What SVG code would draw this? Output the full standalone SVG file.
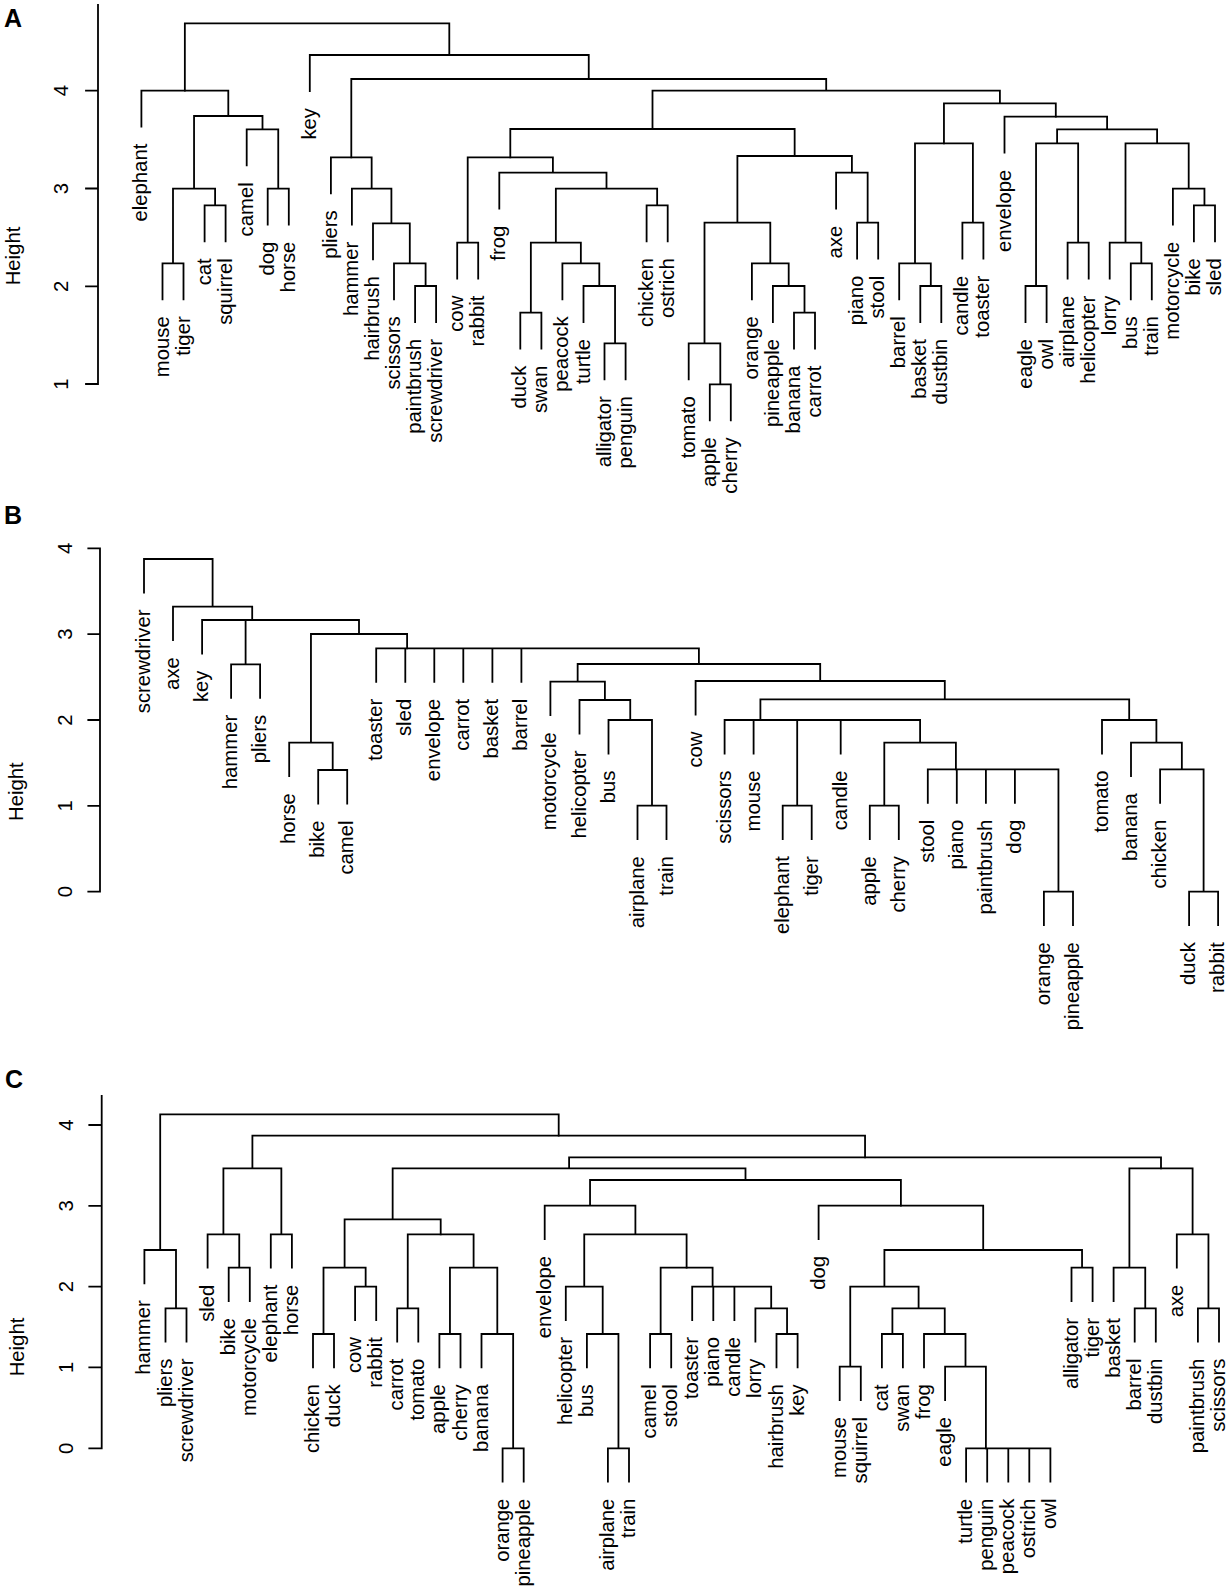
<svg xmlns="http://www.w3.org/2000/svg" width="1230" height="1592" viewBox="0 0 1230 1592">
<style>
.ln{stroke:#000;stroke-width:1.8;fill:none;stroke-linecap:square}
text{font-family:"Liberation Sans",Arial,sans-serif;fill:#000}
.lb{font-size:20.3px;text-anchor:end}
.tk{font-size:20.3px;text-anchor:middle}
.pl{font-size:25px;font-weight:bold}
</style>
<rect width="1230" height="1592" fill="#fff"/>
<!-- Panel A -->
<g id="panelA-axis">
<text class="pl" x="4" y="27">A</text>
<path class="ln" d="M98 5V384M86 90.7H98M86 188.5H98M86 286.3H98M86 384H98"/>
<text class="tk" transform="translate(68,90.7) rotate(-90)">4</text>
<text class="tk" transform="translate(68,188.5) rotate(-90)">3</text>
<text class="tk" transform="translate(68,286.3) rotate(-90)">2</text>
<text class="tk" transform="translate(68,384) rotate(-90)">1</text>
<text class="tk" transform="translate(19.5,256) rotate(-90)">Height</text>
</g>
<g id="panelA-connectors" class="ln">
<path d="M162.5 299.3V263.3H183.5V299.3M204.6 241.3V205.3H225.6V241.3M173 263.3V188.7H215.1V205.3M267.7 224.7V188.7H288.8V224.7M246.7 165.3V129.3H278.25V188.7M194.05 188.7V116H262.5V129.3M141.4 126.7V90.7H228.3V116"/>
<path d="M415.1 322V286H436.1V322M394 299.3V263.3H425.6V286M373 259.3V223.3H409.8V263.3M351.9 224.7V188.7H391.4V223.3M330.9 193.3V157.3H371.65V188.7"/>
<path d="M457.2 278.7V242.7H478.2V278.7M520.3 348.7V312.7H541.4V348.7M604.5 379.3V343.3H625.6V379.3M583.5 322V286H615.05V343.3M562.4 299.3V263.3H599.3V286M530.85 312.7V242.7H580.85V263.3M646.6 241.3V205.3H667.7V241.3M555.85 242.7V188.7H657.15V205.3M499.3 208.7V172.7H606.5V188.7M467.7 242.7V157.3H552.9V172.7"/>
<path d="M709.8 420.3V384.3H730.8V420.3M688.7 379.3V343.3H720.3V384.3M794 348.7V312.7H815V348.7M772.9 322V286H804.5V312.7M751.9 299.3V263.3H788.7V286M704.5 343.3V222.7H770.3V263.3M857.1 258.7V222.7H878.2V258.7M836.1 208.7V172.7H867.65V222.7M737.4 222.7V156H851.9V172.7M510.3 157.3V129H794.65V156"/>
<path d="M920.3 322V286H941.3V322M899.2 299.3V263.3H930.8V286M962.4 258.7V222.7H983.4V258.7M915 263.3V143.3H972.9V222.7"/>
<path d="M1025.5 322V286H1046.6V322M1067.6 278.7V242.7H1088.7V278.7M1036.05 286V143.3H1078.15V242.7M1130.8 299.3V263.3H1151.8V299.3M1109.7 278.7V242.7H1141.3V263.3M1193.9 241.3V205.3H1215V241.3M1172.9 224.7V188.7H1204.45V205.3M1125.5 242.7V143.3H1188.7V188.7M1057.1 143.3V129.3H1157.1V143.3M1004.5 152.7V116.7H1107.1V129.3"/>
<path d="M943.95 143.3V103.3H1055.8V116.7M652.5 129V90.7H999.9V103.3M351.3 157.3V79H826.2V90.7M309.8 91V55H588.75V79M184.85 90.7V23.3H449.3V55"/>
</g>
<g id="panelA-leaves" class="lb">
<g id="A-elephant"><text transform="translate(147.4,143.7) rotate(-90)">elephant</text></g>
<g id="A-mouse"><text transform="translate(168.5,316.3) rotate(-90)">mouse</text></g>
<g id="A-tiger"><text transform="translate(189.5,316.3) rotate(-90)">tiger</text></g>
<g id="A-cat"><text transform="translate(210.6,258.3) rotate(-90)">cat</text></g>
<g id="A-squirrel"><text transform="translate(231.6,258.3) rotate(-90)">squirrel</text></g>
<g id="A-camel"><text transform="translate(252.7,182.3) rotate(-90)">camel</text></g>
<g id="A-dog"><text transform="translate(273.7,241.7) rotate(-90)">dog</text></g>
<g id="A-horse"><text transform="translate(294.8,241.7) rotate(-90)">horse</text></g>
<g id="A-key"><text transform="translate(315.8,108) rotate(-90)">key</text></g>
<g id="A-pliers"><text transform="translate(336.9,210.3) rotate(-90)">pliers</text></g>
<g id="A-hammer"><text transform="translate(357.9,241.7) rotate(-90)">hammer</text></g>
<g id="A-hairbrush"><text transform="translate(379,276.3) rotate(-90)">hairbrush</text></g>
<g id="A-scissors"><text transform="translate(400,316.3) rotate(-90)">scissors</text></g>
<g id="A-paintbrush"><text transform="translate(421.1,339) rotate(-90)">paintbrush</text></g>
<g id="A-screwdriver"><text transform="translate(442.1,339) rotate(-90)">screwdriver</text></g>
<g id="A-cow"><text transform="translate(463.2,295.7) rotate(-90)">cow</text></g>
<g id="A-rabbit"><text transform="translate(484.2,295.7) rotate(-90)">rabbit</text></g>
<g id="A-frog"><text transform="translate(505.3,225.7) rotate(-90)">frog</text></g>
<g id="A-duck"><text transform="translate(526.3,365.7) rotate(-90)">duck</text></g>
<g id="A-swan"><text transform="translate(547.4,365.7) rotate(-90)">swan</text></g>
<g id="A-peacock"><text transform="translate(568.4,316.3) rotate(-90)">peacock</text></g>
<g id="A-turtle"><text transform="translate(589.5,339) rotate(-90)">turtle</text></g>
<g id="A-alligator"><text transform="translate(610.5,396.3) rotate(-90)">alligator</text></g>
<g id="A-penguin"><text transform="translate(631.6,396.3) rotate(-90)">penguin</text></g>
<g id="A-chicken"><text transform="translate(652.6,258.3) rotate(-90)">chicken</text></g>
<g id="A-ostrich"><text transform="translate(673.7,258.3) rotate(-90)">ostrich</text></g>
<g id="A-tomato"><text transform="translate(694.7,396.3) rotate(-90)">tomato</text></g>
<g id="A-apple"><text transform="translate(715.8,437.3) rotate(-90)">apple</text></g>
<g id="A-cherry"><text transform="translate(736.8,437.3) rotate(-90)">cherry</text></g>
<g id="A-orange"><text transform="translate(757.9,316.3) rotate(-90)">orange</text></g>
<g id="A-pineapple"><text transform="translate(778.9,339) rotate(-90)">pineapple</text></g>
<g id="A-banana"><text transform="translate(800,365.7) rotate(-90)">banana</text></g>
<g id="A-carrot"><text transform="translate(821,365.7) rotate(-90)">carrot</text></g>
<g id="A-axe"><text transform="translate(842.1,225.7) rotate(-90)">axe</text></g>
<g id="A-piano"><text transform="translate(863.1,275.7) rotate(-90)">piano</text></g>
<g id="A-stool"><text transform="translate(884.2,275.7) rotate(-90)">stool</text></g>
<g id="A-barrel"><text transform="translate(905.2,316.3) rotate(-90)">barrel</text></g>
<g id="A-basket"><text transform="translate(926.3,339) rotate(-90)">basket</text></g>
<g id="A-dustbin"><text transform="translate(947.3,339) rotate(-90)">dustbin</text></g>
<g id="A-candle"><text transform="translate(968.4,275.7) rotate(-90)">candle</text></g>
<g id="A-toaster"><text transform="translate(989.4,275.7) rotate(-90)">toaster</text></g>
<g id="A-envelope"><text transform="translate(1010.5,169.7) rotate(-90)">envelope</text></g>
<g id="A-eagle"><text transform="translate(1031.5,339) rotate(-90)">eagle</text></g>
<g id="A-owl"><text transform="translate(1052.6,339) rotate(-90)">owl</text></g>
<g id="A-airplane"><text transform="translate(1073.6,295.7) rotate(-90)">airplane</text></g>
<g id="A-helicopter"><text transform="translate(1094.7,295.7) rotate(-90)">helicopter</text></g>
<g id="A-lorry"><text transform="translate(1115.7,295.7) rotate(-90)">lorry</text></g>
<g id="A-bus"><text transform="translate(1136.8,316.3) rotate(-90)">bus</text></g>
<g id="A-train"><text transform="translate(1157.8,316.3) rotate(-90)">train</text></g>
<g id="A-motorcycle"><text transform="translate(1178.9,241.7) rotate(-90)">motorcycle</text></g>
<g id="A-bike"><text transform="translate(1199.9,258.3) rotate(-90)">bike</text></g>
<g id="A-sled"><text transform="translate(1221,258.3) rotate(-90)">sled</text></g>
</g>
<!-- Panel B -->
<g id="panelB-axis">
<text class="pl" x="4" y="523.5">B</text>
<path class="ln" d="M100 548.3V891.7M88.3 548.3H100M88.3 634.1H100M88.3 720H100M88.3 805.8H100M88.3 891.7H100"/>
<text class="tk" transform="translate(71.5,548.3) rotate(-90)">4</text>
<text class="tk" transform="translate(71.5,634.1) rotate(-90)">3</text>
<text class="tk" transform="translate(71.5,720) rotate(-90)">2</text>
<text class="tk" transform="translate(71.5,805.8) rotate(-90)">1</text>
<text class="tk" transform="translate(71.5,891.7) rotate(-90)">0</text>
<text class="tk" transform="translate(23,791.7) rotate(-90)">Height</text>
</g>
<g id="panelB-connectors" class="ln">
<path d="M144 592.5V559H212.6V606.7M173 640.2V606.7H252.2V620M202.1 653.5V620H302.3M245.6 664.3V620H359V634M231.1 697.8V664.3H260.1V697.8"/>
<path d="M310.95 742.7V634H407.1V648.3M289.2 776.2V742.7H332.7V770M318.2 803.5V770H347.2V803.5"/>
<path d="M376.2 681.8V648.3H698.9V664M405.3 648.3V681.8M434.3 648.3V681.8M463.3 648.3V681.8M492.4 648.3V681.8M521.4 648.3V681.8"/>
<path d="M577.65 681.7V664H820.2V681M550.4 715.2V681.7H604.9V700M579.5 733.5V700H630.25V720M608.5 753.5V720H652V805.7M637.5 839.2V805.7H666.5V839.2"/>
<path d="M695.6 714.5V681H944.8V699.3M760.4 720V699.3H1129.2V720M724.6 753.5V720H920.1V742.7M753.6 720V753.5M797.2 720V805.7M840.7 720V753.5M782.7 839.2V805.7H811.7V839.2M884.3 805.7V742.7H955.9V769.3M869.8 839.2V805.7H898.8V839.2"/>
<path d="M927.8 802.8V769.3H1058.45V891.7M956.8 769.3V802.8M985.9 769.3V802.8M1014.9 769.3V802.8M1043.9 925.2V891.7H1073V925.2"/>
<path d="M1102 753.5V720H1156.4V742.7M1131 776.2V742.7H1181.85V769.3M1160.1 802.8V769.3H1203.6V891.7M1189.1 925.2V891.7H1218.1V925.2"/>
</g>
<g id="panelB-leaves" class="lb">
<g id="B-screwdriver"><text transform="translate(150,609.5) rotate(-90)">screwdriver</text></g>
<g id="B-axe"><text transform="translate(179,657.2) rotate(-90)">axe</text></g>
<g id="B-key"><text transform="translate(208.1,670.5) rotate(-90)">key</text></g>
<g id="B-hammer"><text transform="translate(237.1,714.8) rotate(-90)">hammer</text></g>
<g id="B-pliers"><text transform="translate(266.1,714.8) rotate(-90)">pliers</text></g>
<g id="B-horse"><text transform="translate(295.2,793.2) rotate(-90)">horse</text></g>
<g id="B-bike"><text transform="translate(324.2,820.5) rotate(-90)">bike</text></g>
<g id="B-camel"><text transform="translate(353.2,820.5) rotate(-90)">camel</text></g>
<g id="B-toaster"><text transform="translate(382.2,698.8) rotate(-90)">toaster</text></g>
<g id="B-sled"><text transform="translate(411.3,698.8) rotate(-90)">sled</text></g>
<g id="B-envelope"><text transform="translate(440.3,698.8) rotate(-90)">envelope</text></g>
<g id="B-carrot"><text transform="translate(469.3,698.8) rotate(-90)">carrot</text></g>
<g id="B-basket"><text transform="translate(498.4,698.8) rotate(-90)">basket</text></g>
<g id="B-barrel"><text transform="translate(527.4,698.8) rotate(-90)">barrel</text></g>
<g id="B-motorcycle"><text transform="translate(556.4,732.2) rotate(-90)">motorcycle</text></g>
<g id="B-helicopter"><text transform="translate(585.5,750.5) rotate(-90)">helicopter</text></g>
<g id="B-bus"><text transform="translate(614.5,770.5) rotate(-90)">bus</text></g>
<g id="B-airplane"><text transform="translate(643.5,856.2) rotate(-90)">airplane</text></g>
<g id="B-train"><text transform="translate(672.5,856.2) rotate(-90)">train</text></g>
<g id="B-cow"><text transform="translate(701.6,731.5) rotate(-90)">cow</text></g>
<g id="B-scissors"><text transform="translate(730.6,770.5) rotate(-90)">scissors</text></g>
<g id="B-mouse"><text transform="translate(759.6,770.5) rotate(-90)">mouse</text></g>
<g id="B-elephant"><text transform="translate(788.7,856.2) rotate(-90)">elephant</text></g>
<g id="B-tiger"><text transform="translate(817.7,856.2) rotate(-90)">tiger</text></g>
<g id="B-candle"><text transform="translate(846.7,770.5) rotate(-90)">candle</text></g>
<g id="B-apple"><text transform="translate(875.8,856.2) rotate(-90)">apple</text></g>
<g id="B-cherry"><text transform="translate(904.8,856.2) rotate(-90)">cherry</text></g>
<g id="B-stool"><text transform="translate(933.8,819.8) rotate(-90)">stool</text></g>
<g id="B-piano"><text transform="translate(962.8,819.8) rotate(-90)">piano</text></g>
<g id="B-paintbrush"><text transform="translate(991.9,819.8) rotate(-90)">paintbrush</text></g>
<g id="B-dog"><text transform="translate(1020.9,819.8) rotate(-90)">dog</text></g>
<g id="B-orange"><text transform="translate(1049.9,942.2) rotate(-90)">orange</text></g>
<g id="B-pineapple"><text transform="translate(1079,942.2) rotate(-90)">pineapple</text></g>
<g id="B-tomato"><text transform="translate(1108,770.5) rotate(-90)">tomato</text></g>
<g id="B-banana"><text transform="translate(1137,793.2) rotate(-90)">banana</text></g>
<g id="B-chicken"><text transform="translate(1166.1,819.8) rotate(-90)">chicken</text></g>
<g id="B-duck"><text transform="translate(1195.1,942.2) rotate(-90)">duck</text></g>
<g id="B-rabbit"><text transform="translate(1224.1,942.2) rotate(-90)">rabbit</text></g>
</g>
<!-- Panel C -->
<g id="panelC-axis">
<text class="pl" x="5" y="1088">C</text>
<path class="ln" d="M101.7 1096V1448.3M89.3 1125H101.7M89.3 1205.8H101.7M89.3 1286.6H101.7M89.3 1367.4H101.7M89.3 1448.3H101.7"/>
<text class="tk" transform="translate(72.5,1125) rotate(-90)">4</text>
<text class="tk" transform="translate(72.5,1205.8) rotate(-90)">3</text>
<text class="tk" transform="translate(72.5,1286.6) rotate(-90)">2</text>
<text class="tk" transform="translate(72.5,1367.4) rotate(-90)">1</text>
<text class="tk" transform="translate(72.5,1448.3) rotate(-90)">0</text>
<text class="tk" transform="translate(24,1347) rotate(-90)">Height</text>
</g>
<g id="panelC-connectors" class="ln">
<path d="M160.2 1250V1114.3H558.7V1135.7M144.4 1283.3V1250H176V1308.3M165.5 1341.6V1308.3H186.5V1341.6"/>
<path d="M252.4 1168.3V1135.7H865.05V1157.3M223.4 1234.3V1168.3H281.35V1234.3M207.6 1267.6V1234.3H239.25V1267.7M228.7 1301V1267.7H249.8V1301M270.8 1267.6V1234.3H291.9V1267.6"/>
<path d="M569.1 1168.3V1157.3H1161V1168.3M392.65 1219.3V1168.3H745.5V1180M344.6 1267.7V1219.3H440.7V1234.3M323.5 1334V1267.7H365.65V1286.7M313 1367.3V1334H334V1367.3M355.1 1320V1286.7H376.2V1320"/>
<path d="M407.75 1308.3V1234.3H473.6V1267.7M397.2 1341.6V1308.3H418.3V1341.6M449.95 1334V1267.7H497.3V1334M439.4 1367.3V1334H460.5V1367.3M481.5 1367.3V1334H513.15V1448.3M502.6 1481.6V1448.3H523.7V1481.6"/>
<path d="M590.05 1205.7V1180H900.9V1205.7M544.7 1239V1205.7H635.4V1234.3M584.25 1286.7V1234.3H686.6V1267.7M565.8 1320V1286.7H602.7V1334M586.9 1367.3V1334H618.45V1448.3M607.9 1481.6V1448.3H629V1481.6"/>
<path d="M660.65 1334V1267.7H712.6V1286.7M650.1 1367.3V1334H671.2V1367.3M692.2 1320V1286.7H771.2V1308.3M713.3 1286.7V1320M734.4 1286.7V1320M755.4 1341.6V1308.3H787.05V1334M776.5 1367.3V1334H797.6V1367.3"/>
<path d="M818.6 1239V1205.7H983.2V1250M884.4 1286.7V1250H1082.05V1267.7M1071.5 1301V1267.7H1092.6V1301M850.25 1366.7V1286.7H918.6V1308.3M839.7 1400V1366.7H860.8V1400M892.4 1334V1308.3H944.75V1334M881.9 1367.3V1334H902.9V1367.3M924 1367.3V1334H965.5V1366.7M945.1 1400V1366.7H985.9V1448.3"/>
<path d="M966.1 1481.6V1448.3H1050.4V1481.6M987.2 1448.3V1481.6M1008.3 1448.3V1481.6M1029.3 1448.3V1481.6"/>
<path d="M1129.4 1267.7V1168.3H1192.6V1234.3M1113.6 1301V1267.7H1145.25V1308.3M1134.7 1341.6V1308.3H1155.8V1341.6M1176.8 1267.6V1234.3H1208.45V1308.3M1197.9 1341.6V1308.3H1219V1341.6"/>
</g>
<g id="panelC-leaves" class="lb">
<g id="C-hammer"><text transform="translate(150.4,1300.3) rotate(-90)">hammer</text></g>
<g id="C-pliers"><text transform="translate(171.5,1358.6) rotate(-90)">pliers</text></g>
<g id="C-screwdriver"><text transform="translate(192.5,1358.6) rotate(-90)">screwdriver</text></g>
<g id="C-sled"><text transform="translate(213.6,1284.6) rotate(-90)">sled</text></g>
<g id="C-bike"><text transform="translate(234.7,1318) rotate(-90)">bike</text></g>
<g id="C-motorcycle"><text transform="translate(255.8,1318) rotate(-90)">motorcycle</text></g>
<g id="C-elephant"><text transform="translate(276.8,1284.6) rotate(-90)">elephant</text></g>
<g id="C-horse"><text transform="translate(297.9,1284.6) rotate(-90)">horse</text></g>
<g id="C-chicken"><text transform="translate(319,1384.3) rotate(-90)">chicken</text></g>
<g id="C-duck"><text transform="translate(340,1384.3) rotate(-90)">duck</text></g>
<g id="C-cow"><text transform="translate(361.1,1337) rotate(-90)">cow</text></g>
<g id="C-rabbit"><text transform="translate(382.2,1337) rotate(-90)">rabbit</text></g>
<g id="C-carrot"><text transform="translate(403.2,1358.6) rotate(-90)">carrot</text></g>
<g id="C-tomato"><text transform="translate(424.3,1358.6) rotate(-90)">tomato</text></g>
<g id="C-apple"><text transform="translate(445.4,1384.3) rotate(-90)">apple</text></g>
<g id="C-cherry"><text transform="translate(466.5,1384.3) rotate(-90)">cherry</text></g>
<g id="C-banana"><text transform="translate(487.5,1384.3) rotate(-90)">banana</text></g>
<g id="C-orange"><text transform="translate(508.6,1498.6) rotate(-90)">orange</text></g>
<g id="C-pineapple"><text transform="translate(529.7,1498.6) rotate(-90)">pineapple</text></g>
<g id="C-envelope"><text transform="translate(550.7,1256) rotate(-90)">envelope</text></g>
<g id="C-helicopter"><text transform="translate(571.8,1337) rotate(-90)">helicopter</text></g>
<g id="C-bus"><text transform="translate(592.9,1384.3) rotate(-90)">bus</text></g>
<g id="C-airplane"><text transform="translate(613.9,1498.6) rotate(-90)">airplane</text></g>
<g id="C-train"><text transform="translate(635,1498.6) rotate(-90)">train</text></g>
<g id="C-camel"><text transform="translate(656.1,1384.3) rotate(-90)">camel</text></g>
<g id="C-stool"><text transform="translate(677.2,1384.3) rotate(-90)">stool</text></g>
<g id="C-toaster"><text transform="translate(698.2,1337) rotate(-90)">toaster</text></g>
<g id="C-piano"><text transform="translate(719.3,1337) rotate(-90)">piano</text></g>
<g id="C-candle"><text transform="translate(740.4,1337) rotate(-90)">candle</text></g>
<g id="C-lorry"><text transform="translate(761.4,1358.6) rotate(-90)">lorry</text></g>
<g id="C-hairbrush"><text transform="translate(782.5,1384.3) rotate(-90)">hairbrush</text></g>
<g id="C-key"><text transform="translate(803.6,1384.3) rotate(-90)">key</text></g>
<g id="C-dog"><text transform="translate(824.6,1256) rotate(-90)">dog</text></g>
<g id="C-mouse"><text transform="translate(845.7,1417) rotate(-90)">mouse</text></g>
<g id="C-squirrel"><text transform="translate(866.8,1417) rotate(-90)">squirrel</text></g>
<g id="C-cat"><text transform="translate(887.9,1384.3) rotate(-90)">cat</text></g>
<g id="C-swan"><text transform="translate(908.9,1384.3) rotate(-90)">swan</text></g>
<g id="C-frog"><text transform="translate(930,1384.3) rotate(-90)">frog</text></g>
<g id="C-eagle"><text transform="translate(951.1,1417) rotate(-90)">eagle</text></g>
<g id="C-turtle"><text transform="translate(972.1,1498.6) rotate(-90)">turtle</text></g>
<g id="C-penguin"><text transform="translate(993.2,1498.6) rotate(-90)">penguin</text></g>
<g id="C-peacock"><text transform="translate(1014.3,1498.6) rotate(-90)">peacock</text></g>
<g id="C-ostrich"><text transform="translate(1035.3,1498.6) rotate(-90)">ostrich</text></g>
<g id="C-owl"><text transform="translate(1056.4,1498.6) rotate(-90)">owl</text></g>
<g id="C-alligator"><text transform="translate(1077.5,1318) rotate(-90)">alligator</text></g>
<g id="C-tiger"><text transform="translate(1098.6,1318) rotate(-90)">tiger</text></g>
<g id="C-basket"><text transform="translate(1119.6,1318) rotate(-90)">basket</text></g>
<g id="C-barrel"><text transform="translate(1140.7,1358.6) rotate(-90)">barrel</text></g>
<g id="C-dustbin"><text transform="translate(1161.8,1358.6) rotate(-90)">dustbin</text></g>
<g id="C-axe"><text transform="translate(1182.8,1284.6) rotate(-90)">axe</text></g>
<g id="C-paintbrush"><text transform="translate(1203.9,1358.6) rotate(-90)">paintbrush</text></g>
<g id="C-scissors"><text transform="translate(1225,1358.6) rotate(-90)">scissors</text></g>
</g>
</svg>
